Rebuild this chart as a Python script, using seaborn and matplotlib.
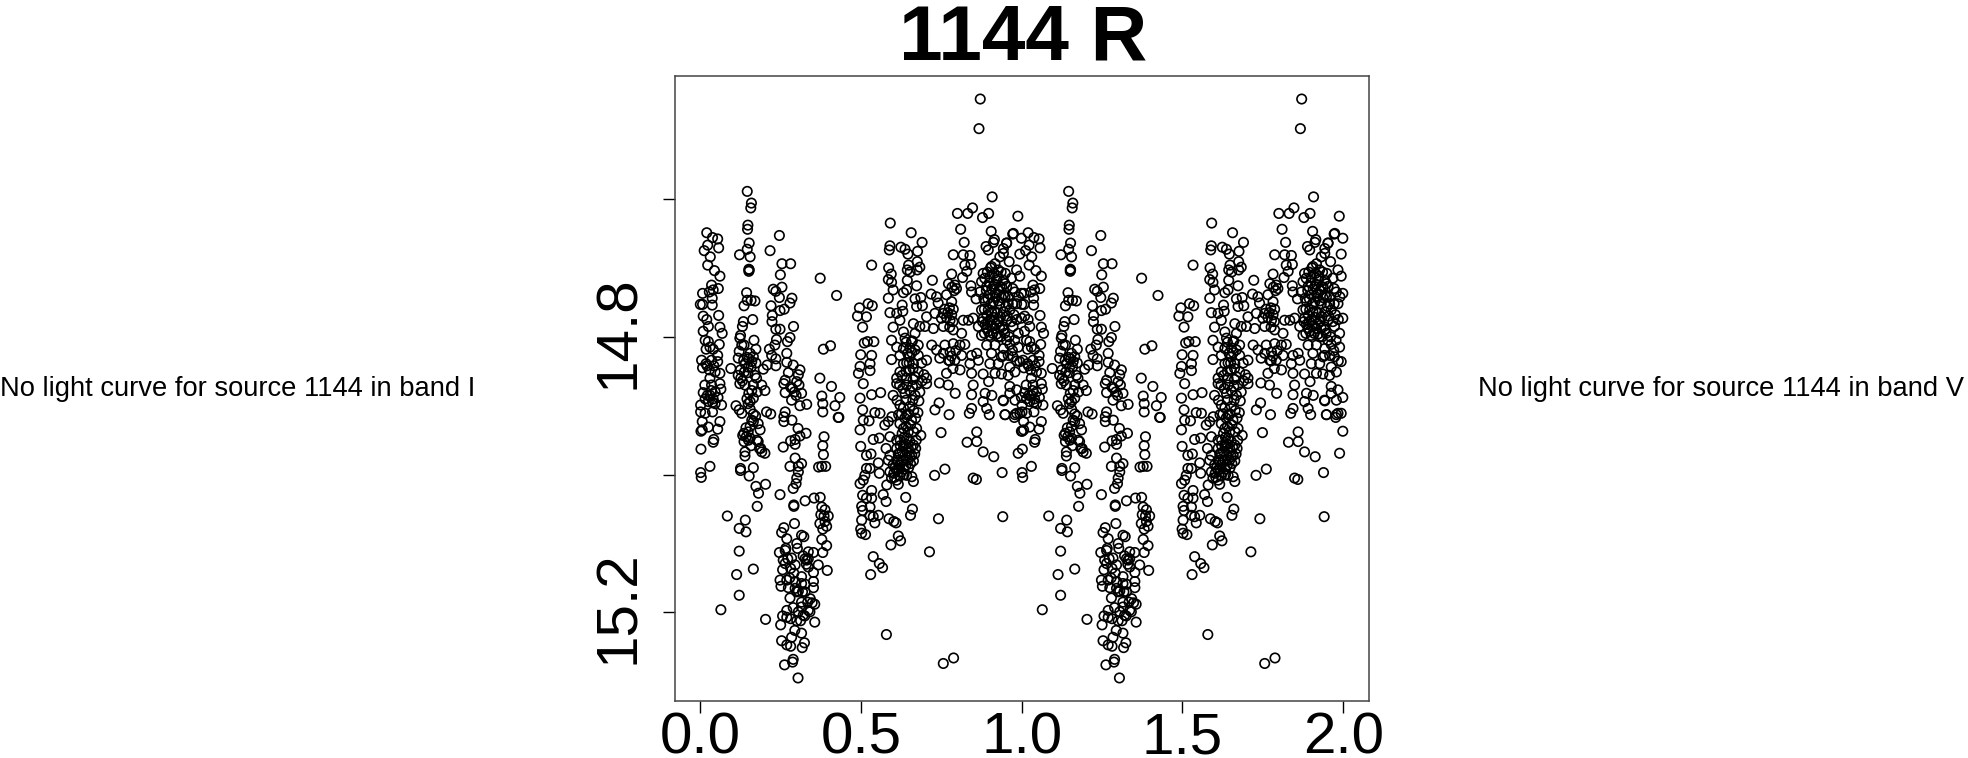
import numpy as np
import pandas as pd
import matplotlib
matplotlib.use("Agg")
import matplotlib.pyplot as plt
from matplotlib.transforms import ScaledTranslation
import seaborn as sns

title = "1144 R"
note_left = "No light curve for source 1144 in band I"
note_right = "No light curve for source 1144 in band V"
x_ticks = [0.0, 0.5, 1.0, 1.5, 2.0]
x_tick_labels = ["0.0", "0.5", "1.0", "1.5", "2.0"]
y_ticks = [14.6, 14.8, 15.0, 15.2]
y_tick_labels = ["", "14.8", "", "15.2"]

group_a = [(.020,14.649),(.038,14.656),(.054,14.658),(.023,14.667),(.012,14.675),(.057,14.671),(.031,14.684),(.023,14.696),(.044,14.704),(.061,14.712),(.035,14.725),(.056,14.730),(.040,14.732),(.028,14.735),(.007,14.737),(.037,14.744),(.007,14.753),(.000,14.753),(.037,14.754),(.057,14.769),(.009,14.770),(.020,14.775),(.025,14.785),(.061,14.786),(.068,14.795),(.009,14.792),(.015,14.805),(.059,14.811),(.025,14.807),(.030,14.815),(.040,14.818),(.018,14.818),(.054,14.827),(.004,14.834),(.018,14.839),(.035,14.834),(.054,14.836),(.007,14.845),(.046,14.851),(.061,14.853),(.030,14.860),(.095,14.846),
(.014,14.870),(.035,14.870),(.061,14.868),(.064,14.876),(.009,14.881),(.030,14.885),(.040,14.890),(.066,14.899),(.046,14.897),(.025,14.894),(.001,14.899),(.001,14.909),(.038,14.909),(.015,14.911),(.061,14.923),(.006,14.923),(.054,14.934),(.006,14.935),(.025,14.931),(.002,14.937),(.042,14.949),(.040,14.953),(.002,14.963),(.030,14.988),(.001,14.997),(.003,15.004),(.084,15.060),(.064,15.196)]
group_b = [(.146,14.589),(.159,14.606),(.157,14.613),(.148,14.638),(.147,14.644),(.152,14.664),(.146,14.673),(.122,14.681),(.155,14.684),(.151,14.702),(.152,14.703),(.151,14.705),(.144,14.736),(.146,14.747),(.158,14.747),(.170,14.748),(.136,14.755),(.163,14.775),(.134,14.778),(.131,14.785),(.125,14.798),(.123,14.802),(.167,14.805),(.136,14.812),(.129,14.812),(.173,14.818),(.121,14.821),(.155,14.824),(.165,14.829),(.146,14.830),(.118,14.831),(.160,14.836),(.173,14.838),(.139,14.839),(.149,14.844),(.125,14.848),(.118,14.856),(.170,14.856),(.196,14.847),(.208,14.841),(.175,14.860),(.126,14.860),
(.123,14.868),(.139,14.870),(.165,14.870),(.191,14.870),(.201,14.878),(.177,14.880),(.155,14.894),(.165,14.889),(.149,14.897),(.111,14.900),(.121,14.906),(.129,14.911),(.206,14.909),(.219,14.912),(.160,14.921),(.180,14.926),(.165,14.923),(.155,14.930),(.186,14.935),(.136,14.940),(.149,14.938),(.132,14.943),(.155,14.947),(.136,14.952),(.180,14.952),(.184,14.962),(.191,14.967),(.201,14.969),(.139,14.967),(.139,14.973),(.125,14.991),(.125,14.994),(.165,14.990),(.152,15.002),(.173,15.017),(.203,15.014),(.181,15.027),(.177,15.046),(.140,15.066),(.121,15.078),(.142,15.083),(.121,15.111),(.165,15.137),(.113,15.145),(.121,15.175),(.203,15.210)]
group_c = [(.246,14.653),(.217,14.675),(.254,14.694),(.281,14.694),(.249,14.710),(.254,14.728),(.227,14.731),(.235,14.734),(.246,14.743),(.285,14.744),(.279,14.751),(.220,14.755),(.261,14.760),(.248,14.762),(.224,14.769),(.223,14.778),(.290,14.785),(.235,14.789),(.248,14.789),(.279,14.801),(.237,14.804),(.271,14.807),(.232,14.812),(.215,14.818),(.269,14.824),(.222,14.827),(.235,14.832),(.269,14.837),(.235,14.842),(.289,14.841),(.310,14.848),(.274,14.852),(.305,14.855),(.264,14.863),
(.260,14.868),(.281,14.873),(.307,14.870),(.264,14.881),(.315,14.882),(.298,14.885),(.284,14.892),(.310,14.900),(.331,14.898),(.264,14.909),(.260,14.916),(.260,14.923),(.285,14.921),(.304,14.933),(.329,14.940),(.310,14.944),(.295,14.949),(.281,14.951),(.295,14.956),(.258,14.960),(.295,14.976),(.279,14.988),(.315,14.984),(.305,14.988),(.305,14.996),(.300,15.005),(.298,15.013),(.289,15.020),(.248,15.029),(.291,15.044),(.291,15.046),(.326,15.038),(.354,15.034),(.373,15.033),(.293,15.071),(.260,15.077),(.253,15.084),(.269,15.093),(.315,15.088),(.322,15.090),(.300,15.100),(.266,15.107),(.302,15.107),(.246,15.113),(.264,15.110),(.336,15.112),(.352,15.113),(.258,15.124),(.284,15.121),(.326,15.122),(.336,15.122),(.331,15.124),(.295,15.131),(.264,15.129),(.281,15.136),(.256,15.138),(.336,15.134),(.367,15.131),(.291,15.143),(.352,15.142),(.315,15.148),(.248,15.153),(.269,15.153),(.295,15.155),(.352,15.155),(.315,15.158),(.251,15.162),(.274,15.164),(.295,15.165),(.326,15.159),(.352,15.164),(.305,15.169),(.326,15.170),(.279,15.179),(.315,15.185),(.348,15.186),(.289,15.193),(.315,15.192),(.269,15.197),(.336,15.197),(.305,15.199),(.341,15.199),(.256,15.205),(.269,15.207),(.281,15.209),(.320,15.204),(.312,15.212),(.356,15.214),(.250,15.218),(.294,15.226),(.315,15.230),(.284,15.236),(.253,15.241),(.269,15.247),(.281,15.249),(.324,15.244),(.317,15.251),(.289,15.268),(.287,15.272),(.262,15.276),(.304,15.295)]
group_d = [(.373,14.715),(.424,14.740),(.405,14.813),(.383,14.818),(.372,14.860),(.378,14.886),(.381,14.897),(.408,14.872),(.434,14.888),(.419,14.900),(.381,14.909),(.429,14.917),(.431,14.917),(.385,14.945),(.381,14.958),(.383,14.971),(.368,14.989),(.378,14.988),(.390,14.988),(.378,15.047),(.388,15.051),(.398,15.060),(.388,15.068),(.372,15.071),(.381,15.079),(.378,15.094),(.393,15.103),(.381,15.113),(.395,15.139)]
group_e = [(.533,14.696),(.495,14.758),(.522,14.752),(.535,14.755),(.489,14.770),(.517,14.771),(.505,14.786),(.510,14.809),(.520,14.807),(.540,14.807),(.499,14.826),(.533,14.827),(.528,14.839),(.497,14.843),(.528,14.849),(.492,14.853),
(.507,14.868),(.497,14.889),(.533,14.884),(.561,14.881),(.505,14.906),(.507,14.921),(.525,14.922),(.497,14.935),(.543,14.910),(.559,14.911),(.499,14.959),(.538,14.949),(.557,14.947),(.531,14.970),(.517,14.972),(.554,14.983),(.517,14.991),(.528,14.991),(.512,15.001),(.507,15.008),(.497,15.013),(.557,14.998),(.569,15.029),(.533,15.023),(.505,15.030),(.517,15.034),(.533,15.034),(.578,15.039),(.502,15.046),(.528,15.047),(.505,15.052),(.528,15.059),(.554,15.059),(.538,15.061),(.502,15.066),(.543,15.070),(.499,15.079),(.502,15.085),(.514,15.087),(.538,15.119),(.557,15.129),(.567,15.135),(.530,15.145),(.587,15.064),(.602,15.068),(.609,15.070),(.616,15.089),(.623,15.096),(.593,15.102),(.579,15.232)]
group_f = [(.591,14.635),(.656,14.649),(.690,14.663),(.590,14.668),(.588,14.674),(.624,14.670),(.637,14.673),(.676,14.676),(.646,14.680),(.675,14.691),(.586,14.700),(.648,14.696),(.644,14.703),(.683,14.699),(.675,14.703),(.653,14.706),(.594,14.709),(.585,14.717),(.595,14.721),(.644,14.718),(.722,14.718),(.673,14.726),(.600,14.732),(.642,14.732),(.632,14.736),(.585,14.744),(.668,14.745),(.686,14.743),(.718,14.738),(.735,14.742),(.673,14.756),(.691,14.755),(.628,14.754),(.590,14.765),(.611,14.766),(.630,14.763),(.740,14.751),(.621,14.776),(.663,14.781),(.704,14.771),(.730,14.766),(.600,14.786),(.632,14.793),(.668,14.795),(.699,14.785),(.683,14.785),(.725,14.788),(.595,14.805),(.637,14.802),(.657,14.807),(.678,14.812),(.611,14.815),(.632,14.817),(.668,14.819),(.720,14.812),(.735,14.819),(.595,14.833),(.621,14.827),(.652,14.829),(.678,14.827),(.704,14.834),(.632,14.839),(.663,14.839),(.689,14.838),(.621,14.851),(.652,14.848),(.678,14.851),(.611,14.860),(.642,14.860),(.704,14.860),(.668,14.858),
(.611,14.868),(.642,14.870),(.673,14.870),(.704,14.868),(.744,14.867),(.771,14.870),(.793,14.882),(.600,14.885),(.637,14.882),(.668,14.885),(.621,14.899),(.652,14.901),(.632,14.903),(.677,14.910),(.596,14.916),(.617,14.913),(.642,14.913),(.585,14.923),(.621,14.926),(.657,14.921),(.574,14.928),(.632,14.933),(.673,14.933),(.647,14.938),(.686,14.943),(.590,14.945),(.611,14.950),(.642,14.947),(.663,14.957),(.632,14.957),(.578,14.962),(.611,14.962),(.647,14.962),(.590,14.972),(.621,14.969),(.637,14.972),(.658,14.972),(.585,14.979),(.611,14.979),(.632,14.979),(.647,14.979),(.600,14.986),(.621,14.986),(.590,14.996),(.611,14.993),(.626,14.996),(.642,15.001),(.658,15.003),(.595,15.005),(.611,15.008),(.580,15.015),(.616,15.014),(.663,15.010),(.639,15.033),(.660,15.050),(.654,15.059),(.729,15.001),(.761,14.992),(.749,14.939),(.730,14.906),(.743,14.896),(.774,14.913),(.741,15.064),(.713,15.112),(.756,15.274),(.788,15.266)]
group_g = [(.800,14.621),(.832,14.621),(.847,14.613),(.810,14.644),(.821,14.663),(.787,14.681),(.818,14.681),(.839,14.682),(.823,14.696),(.842,14.695),(.829,14.705),(.782,14.709),(.816,14.714),(.772,14.723),(.792,14.725),(.797,14.730),(.842,14.726),(.844,14.735),(.766,14.739),(.782,14.749),(.858,14.745),(.787,14.760),(.756,14.766),(.777,14.776),(.750,14.773),(.818,14.776),(.834,14.776),(.849,14.773),(.756,14.785),(.787,14.790),(.813,14.795),(.875,14.798),(.761,14.812),(.787,14.810),(.808,14.812),(.823,14.811),(.756,14.824),(.777,14.822),(.813,14.827),(.844,14.827),(.860,14.824),(.745,14.831),(.772,14.834),(.792,14.834),(.839,14.839),(.865,14.834),(.808,14.848),(.844,14.853),(.766,14.853),(.880,14.854),
(.849,14.870),(.897,14.865),(.844,14.884),(.886,14.882),(.907,14.885),(.880,14.894),(.844,14.904),(.837,14.911),(.891,14.904),(.899,14.913),(.948,14.913),(.943,14.893),(.860,14.938),(.830,14.953),(.860,14.952),(.880,14.967),(.913,14.974),(.939,14.997),(.849,15.005),(.859,15.007),(.941,15.061),(.867,14.498),(.871,14.455)]
group_h = [(.908,14.597),(.878,14.627),(.897,14.621),(.905,14.647),(.915,14.659),(.912,14.663),(.889,14.669),(.896,14.674),(.953,14.664),(.943,14.672),(.972,14.651),(.932,14.684),(.943,14.679),(.906,14.698),(.917,14.694),(.927,14.703),(.880,14.708),(.949,14.708),(.901,14.713),(.875,14.720),(.922,14.718),(.943,14.718),(.891,14.727),(.912,14.727),(.932,14.727),(.953,14.727),(.870,14.735),(.901,14.739),(.922,14.737),(.943,14.739),(.886,14.749),(.912,14.749),(.932,14.752),(.958,14.752),(.875,14.761),(.896,14.761),(.917,14.764),(.943,14.764),(.880,14.773),(.901,14.776),(.927,14.778),(.953,14.776),(.865,14.785),(.891,14.788),(.917,14.788),(.943,14.790),(.901,14.798),(.927,14.800),(.953,14.805),(.891,14.812),(.917,14.812),(.943,14.817),(.906,14.824),(.937,14.829),(.958,14.827),(.901,14.839),(.927,14.839),(.917,14.853),(.937,14.854),(.958,14.856),
(.988,14.625),(.974,14.650),(.953,14.664),(.999,14.657),(.994,14.680),(.961,14.691),(.984,14.703),(.994,14.712),(.968,14.715),(.948,14.723),(.999,14.737),(.979,14.735),(.958,14.742),(.984,14.752),(.963,14.761),(.999,14.773),(.973,14.785),(.940,14.785),(.989,14.795),(.963,14.811),(.989,14.815),(.942,14.827),(.973,14.829),(.994,14.836),(.963,14.844),(.979,14.851),(.942,14.892),(.963,14.882),(.979,14.892),(.948,14.913),(.979,14.913),(.994,14.911),(.989,14.969),(.999,14.937),(.963,14.872),(.999,14.888),(.984,14.911),(.977,14.917),(.984,14.877)]
# tight clumps where single circles can only be estimated
clump_top = [(.885,14.715),(.893,14.706),(.903,14.700),(.914,14.708),(.925,14.712),(.936,14.706),(.890,14.733),(.899,14.722),(.907,14.731),(.917,14.724),(.928,14.733),(.938,14.728),(.882,14.744),(.895,14.745),(.905,14.752),(.919,14.743),(.927,14.748),(.937,14.743),(.884,14.760),(.892,14.769),(.906,14.764),(.913,14.772),(.924,14.766),(.934,14.771),(.878,14.778),(.886,14.782),(.895,14.778),(.908,14.784),(.921,14.781),(.931,14.787),(.884,14.795),(.896,14.792),(.910,14.795),(.922,14.796),(.935,14.800),(.948,14.742),(.951,14.756),(.955,14.770),(.947,14.795),(.961,14.800),(.968,14.778),(.972,14.752),(.976,14.768),(.972,14.730),(.990,14.742),(.985,14.775),(.978,14.805),(.971,14.820),(.985,14.835)]
clump_mid = [(.620,14.870),(.630,14.875),(.652,14.878),(.660,14.872),(.683,14.880),(.640,14.892),(.612,14.892),(.661,14.892),(.680,14.893),(.626,14.912),(.636,14.918),(.648,14.912),(.664,14.907),(.670,14.918),(.628,14.940),(.640,14.930),(.654,14.928),(.664,14.938),(.622,14.950),(.634,14.946),(.652,14.952),(.672,14.950),(.622,14.958),(.640,14.956),(.656,14.960),(.670,14.962),(.616,14.970),(.628,14.966),(.644,14.968),(.652,14.974),(.667,14.970),(.616,14.982),(.626,14.980),(.640,14.986),(.654,14.984),(.663,14.980),(.606,14.990),(.617,14.992),(.634,14.992),(.648,14.990),(.602,14.998),(.621,15.002),(.634,15.000),(.604,15.004),
(.640,14.808),(.652,14.816),(.660,14.806),(.645,14.824),(.658,14.823),(.642,14.838),(.650,14.838),(.662,14.846),(.640,14.850),(.662,14.862),(.628,14.856),(.690,14.864),(.696,14.855),(.760,14.760),(.770,14.765),(.782,14.768),(.775,14.758),(.766,14.772),(.786,14.778),(.776,14.786),(.783,14.728),(.790,14.733),(.776,14.835),(.786,14.846),(.781,14.828),(.795,14.820)]
clump_low = [(.021,14.842),(.028,14.848),(.042,14.842),(.034,14.878),(.046,14.880),(.055,14.888),(.022,14.885),(.038,14.895),(.015,14.890),(.135,14.834),(.152,14.832),(.158,14.844),(.137,14.851),(.148,14.852),(.131,14.864),(.151,14.882),(.160,14.878),(.145,14.890),(.155,14.905),(.165,14.912),(.172,14.915),(.142,14.932),(.150,14.950),(.143,14.945),(.158,14.958),(.176,14.950),(.188,14.962),(.286,14.875),(.300,14.865),(.293,14.880),(.272,15.122),(.320,15.118),(.330,15.130),(.278,15.150),(.300,15.170),(.318,15.170),(.356,15.188),(.325,15.205),(.334,15.185),(.300,15.212),(.342,15.180),(.375,15.058),(.385,15.060),(.393,15.075)]

groups = [group_a, group_b, group_c, group_d, group_e, group_f, group_g, group_h,
          clump_top, clump_mid, clump_low]
pairs = [p for g in groups for p in g]
phase = np.array([p[0] for p in pairs])
mag = np.array([p[1] for p in pairs])
df = pd.DataFrame({"phase": np.concatenate([phase, phase + 1]),
                   "mag": np.concatenate([mag, mag])})

sns.set_theme(style="white")
plt.rcParams["font.family"] = ["Liberation Sans", "DejaVu Sans"]

W, H = 1968, 758
fig = plt.figure(figsize=(W / 100, H / 100), dpi=100)
L, R, T, B = 674.7, 1369, 76, 700.7
ax = fig.add_axes([L / W, 1 - B / H, (R - L) / W, (B - T) / H])
sns.scatterplot(data=df, x="phase", y="mag", ax=ax, s=46, marker="o",
                facecolor="none", edgecolor="black", linewidth=1.2, legend=False)
ax.set_xlim(-0.0797, 2.0805)
ax.set_ylim(15.328, 14.4216)
ax.set_xlabel("")
ax.set_ylabel("")
ax.set_xticks(x_ticks, x_tick_labels)
ax.set_yticks(y_ticks, y_tick_labels)
ax.tick_params(axis="x", length=8.6, width=1.0, color="black", pad=29.5, labelsize=42, labelcolor="black")
ax.tick_params(axis="y", length=8.6, width=1.0, color="black", pad=12, labelsize=42, labelcolor="black")
ax.tick_params(left=True, bottom=True)
for t in ax.get_xticklabels():
    t.set_va("baseline")
shift_up = ScaledTranslation(0, 3.5 / 72, fig.dpi_scale_trans)
for t in ax.get_yticklabels():
    t.set_rotation(90)
    t.set_va("center")
    t.set_transform(t.get_transform() + shift_up)
for s in ax.spines.values():
    s.set_visible(True)
    s.set_color("#444444")
    s.set_linewidth(1.1)
fig.text(1023 / W, 1 - 59 / H, title, fontsize=56.5, fontweight="bold", color="black",
         ha="center", va="baseline")
fig.text(0 / W, 1 - 389 / H, note_left, ha="left", va="center", fontsize=19.7, color="black")
fig.text(1964 / W, 1 - 389 / H, note_right, ha="right", va="center", fontsize=19.7, color="black")
fig.savefig("out.png", dpi=100)
